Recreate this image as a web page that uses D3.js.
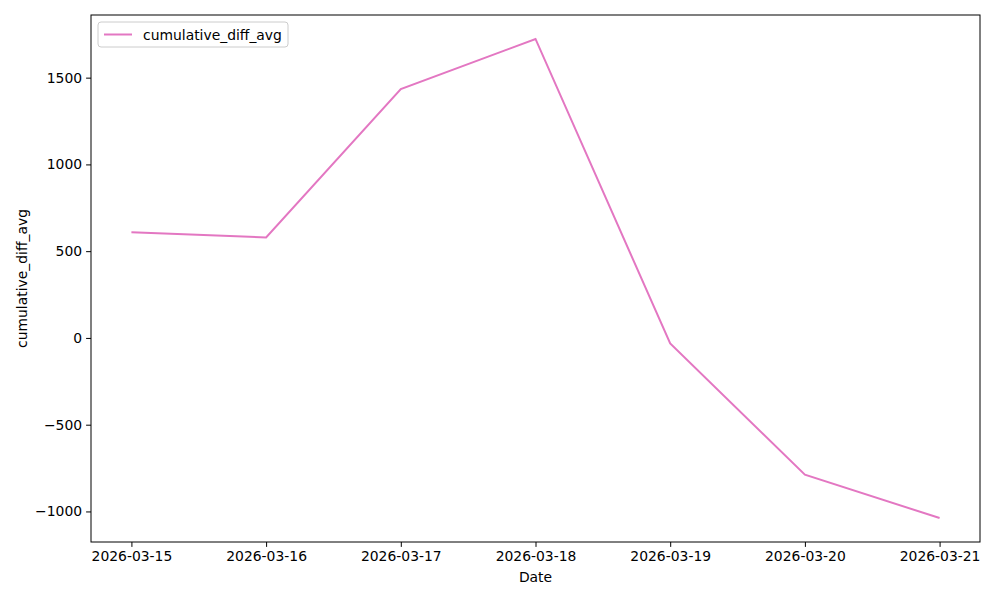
<!DOCTYPE html>
<html>
<head>
<meta charset="utf-8">
<script src="https://cdn.jsdelivr.net/npm/d3@7"></script>
<style>
  body { margin: 0; background: #fff; }
  svg { font-family: "DejaVu Sans", sans-serif; }
</style>
</head>
<body>
<svg id="chart" width="1000" height="600"></svg>
<script>
// data
var dates = ['2026-03-15', '2026-03-16', '2026-03-17', '2026-03-18', '2026-03-19', '2026-03-20', '2026-03-21'];
var values = [609, 579, 1434, 1723, -32, -788, -1038];
var yTicks = [-1000, -500, 0, 500, 1000, 1500];
var seriesName = 'cumulative_diff_avg';

var margins = {top: 15, right: 20, bottom: 58, left: 91},
    w = 1000 - margins.left - margins.right,
    h = 600 - margins.top - margins.bottom;

var fontSize = 13.9;

var parse = d3.utcParse('%Y-%m-%d');
var data = dates.map(function (d, i) { return {date: parse(d), value: values[i]}; });

// matplotlib style 5% padding on both axes
var xExt = d3.extent(data, function (d) { return d.date; });
var xPad = (xExt[1] - xExt[0]) * 0.05;
var x = d3.scaleUtc()
  .domain([new Date(+xExt[0] - xPad), new Date(+xExt[1] + xPad)])
  .range([0, w]);

var yExt = d3.extent(values);
var yPad = (yExt[1] - yExt[0]) * 0.05;
var y = d3.scaleLinear()
  .domain([yExt[0] - yPad, yExt[1] + yPad])
  .range([h, 0]);

var svg = d3.select('#chart');
var g = svg.append('g')
  .attr('transform', 'translate(' + margins.left + ',' + margins.top + ')');

// axes
var fmtY = function (v) { return v < 0 ? '\u2212' + Math.abs(v) : String(v); };

var xAxis = g.append('g')
  .attr('transform', 'translate(0,' + h + ')')
  .call(d3.axisBottom(x)
    .tickValues(data.map(function (d) { return d.date; }))
    .tickFormat(d3.utcFormat('%Y-%m-%d'))
    .tickSizeOuter(0)
    .tickSize(4.9)
    .tickPadding(4));

var yAxis = g.append('g')
  .call(d3.axisLeft(y)
    .tickValues(yTicks)
    .tickFormat(fmtY)
    .tickSizeOuter(0)
    .tickSize(4.9)
    .tickPadding(4));

[xAxis, yAxis].forEach(function (a) {
  a.select('.domain').remove();
  a.selectAll('text').attr('font-size', fontSize).attr('fill', '#000')
    .attr('font-family', '"DejaVu Sans", sans-serif');
  a.selectAll('line').attr('stroke', '#000').attr('stroke-width', 1);
});

// frame
g.append('rect')
  .attr('width', w)
  .attr('height', h)
  .attr('fill', 'none')
  .attr('stroke', '#000')
  .attr('stroke-width', 1);

// line
var line = d3.line()
  .x(function (d) { return x(d.date); })
  .y(function (d) { return y(d.value); });

g.append('path')
  .datum(data)
  .attr('d', line)
  .attr('fill', 'none')
  .attr('stroke', '#e377c2')
  .attr('stroke-width', 2);

// axis labels
svg.append('text')
  .attr('x', margins.left + w / 2)
  .attr('y', 582)
  .attr('text-anchor', 'middle')
  .attr('font-size', fontSize)
  .text('Date');

svg.append('text')
  .attr('transform', 'translate(27,' + (margins.top + h / 2) + ') rotate(-90)')
  .attr('text-anchor', 'middle')
  .attr('font-size', fontSize)
  .text(seriesName);

// legend
var legend = g.append('g').attr('transform', 'translate(7,7)');
legend.append('rect')
  .attr('width', 190)
  .attr('height', 25)
  .attr('rx', 3)
  .attr('fill', '#fff')
  .attr('fill-opacity', 0.8)
  .attr('stroke', '#ccc');
legend.append('line')
  .attr('x1', 6).attr('x2', 34)
  .attr('y1', 12.5).attr('y2', 12.5)
  .attr('stroke', '#e377c2')
  .attr('stroke-width', 2);
legend.append('text')
  .attr('x', 45)
  .attr('y', 17.5)
  .attr('font-size', fontSize)
  .text(seriesName);
</script>
</body>
</html>
